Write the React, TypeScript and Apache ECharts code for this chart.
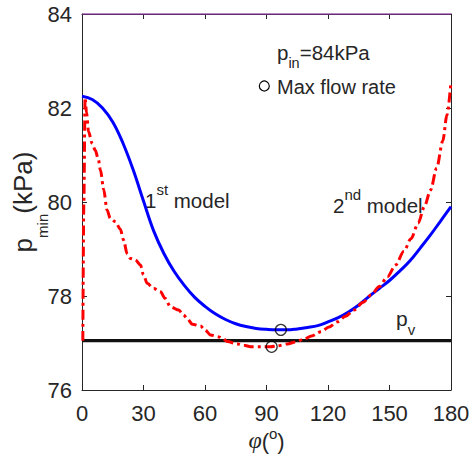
import React, { useEffect, useRef } from 'react';
import * as echarts from 'echarts';

// ---------- data ----------
const phiTicksInterval = 30; // degrees
const pRange = [76, 84];
const pv = 77.05; // vapour pressure (kPa)

// 1st model (solid blue): [phi (deg), p_min (kPa)]
const firstModel: [number, number][] = [
  [0, 82.25], [5, 82.18], [10, 82.0], [15, 81.7], [20, 81.25], [25, 80.68],
  [30, 80.02], [35, 79.38], [40, 78.9], [45, 78.52], [50, 78.22], [55, 77.97],
  [60, 77.78], [65, 77.62], [70, 77.5], [75, 77.41], [80, 77.35], [85, 77.31],
  [90, 77.29], [95, 77.28], [100, 77.28], [105, 77.3], [110, 77.33], [115, 77.37],
  [120, 77.45], [125, 77.54], [130, 77.66], [135, 77.81], [140, 77.99], [145, 78.16],
  [150, 78.33], [155, 78.53], [160, 78.75], [165, 79.02], [170, 79.3], [175, 79.6],
  [180, 79.9],
];

// 2nd model (red dash-dot)
const secondModel: [number, number][] = [
  [0.4, 77.05], [0.9, 80.0], [1.5, 82.22], [2.2, 81.9], [3.2, 81.5], [4.9, 81.25],
  [6.5, 81.1], [8, 80.9], [9, 80.68], [10.6, 80.26], [12.2, 79.83], [13.8, 79.65],
  [16.3, 79.58], [18.7, 79.42], [20.3, 79.19], [22, 78.9], [23.6, 78.8], [26, 78.77],
  [28.5, 78.66], [30, 78.45], [31.8, 78.27], [35, 78.16], [38.3, 78.09], [40.5, 77.95],
  [43.2, 77.77], [47.2, 77.7], [49.5, 77.6], [51.3, 77.52], [53.8, 77.4], [57.8, 77.36],
  [60, 77.28], [62.7, 77.17], [66.8, 77.13], [68.5, 77.1], [70.9, 77.03], [75.8, 76.98],
  [79, 76.95], [82.3, 76.92], [87.1, 76.92], [92, 76.92], [95.3, 76.94], [100.2, 76.98],
  [104, 77.02], [108.3, 77.08], [112, 77.15], [116.5, 77.24], [120.5, 77.34], [124.6, 77.45],
  [128.5, 77.57], [132.7, 77.7], [137, 77.86], [141, 78.02], [145, 78.2], [149, 78.41],
  [153, 78.66], [157, 78.95], [160.5, 79.22], [164, 79.55], [167, 79.9], [170, 80.25],
  [173, 80.72], [176, 81.3], [178, 81.85], [180, 82.56],
];

// max flow rate points
const maxFlow: [number, number][] = [[97, 77.28], [92.5, 76.92]];

const pvLine: [number, number][] = [[0, pv], [180, pv]];
const topLine: [number, number][] = [[0, 84], [180, 84]];

const FONT = '"Liberation Sans", Arial, Helvetica, sans-serif';
const TXT = '#262626';

export default function App() {
  const ref = useRef<HTMLDivElement>(null);
  useEffect(() => {
    if (!ref.current) return;
    const chart = echarts.init(ref.current, undefined, { renderer: 'svg' });

    const axisCommon = {
      axisLine: { show: true, onZero: false, lineStyle: { color: TXT, width: 1 } },
      axisTick: { show: true, inside: true, length: 5, lineStyle: { color: TXT, width: 1 } },
      splitLine: { show: false },
    };

    // subscript: main token top-aligned with bottom padding, small token bottom-aligned
    const subMain = (fs: number, pb: number) => ({
      fontSize: fs, padding: [0, 0, pb, 0], verticalAlign: 'top',
      fill: TXT, color: TXT, fontFamily: FONT,
    });
    const subSmall = (fs: number) => ({
      fontSize: fs, verticalAlign: 'bottom', fill: TXT, color: TXT, fontFamily: FONT,
    });
    // superscript: main token bottom-aligned with top padding, small token top-aligned
    const supMain = (fs: number, pt: number) => ({
      fontSize: fs, padding: [pt, 0, 0, 0], verticalAlign: 'bottom',
      fill: TXT, color: TXT, fontFamily: FONT,
    });
    const supSmall = (fs: number) => ({
      fontSize: fs, verticalAlign: 'top', fill: TXT, color: TXT, fontFamily: FONT,
    });

    const option: any = {
      animation: false,
      backgroundColor: '#ffffff',
      grid: { left: 82, right: 23, top: 14, bottom: 66, outerBoundsMode: 'none', containLabel: false },
      xAxis: [
        {
          type: 'value', position: 'bottom', min: 0, max: 180, interval: phiTicksInterval,
          ...axisCommon,
          axisLabel: { fontSize: 22, lineHeight: 16, color: TXT, fontFamily: FONT, margin: 15 },
          name: '{phi|φ}{n|(}{sup|o}{n|)}',
          nameLocation: 'middle', nameGap: 36, nameMoveOverlap: false,
          nameTextStyle: {
            rich: {
              phi: { ...supMain(24, 2), fontFamily: '"Liberation Serif", "DejaVu Serif", serif', fontStyle: 'italic' },
              n: supMain(22, 2),
              sup: supSmall(15),
            },
          },
        },
        {
          type: 'value', position: 'top', min: 0, max: 180, interval: phiTicksInterval,
          ...axisCommon,
          axisLabel: { show: false },
        },
      ],
      yAxis: [
        {
          type: 'value', position: 'left', min: pRange[0], max: pRange[1], interval: 2,
          ...axisCommon,
          axisLabel: { fontSize: 22, color: TXT, fontFamily: FONT, margin: 10 },
          name: '{n|p}{sub|min}{n|(kPa)}',
          nameLocation: 'middle', nameGap: 32, nameMoveOverlap: false,
          nameTextStyle: {
            rich: {
              n: subMain(26, 14),
              sub: subSmall(15),
            },
          },
        },
        {
          type: 'value', position: 'right', min: pRange[0], max: pRange[1], interval: 2,
          ...axisCommon,
          axisLabel: { show: false },
        },
      ],
      series: [
        {
          type: 'line', data: topLine, showSymbol: false, silent: true,
          lineStyle: { color: '#7E2F8E', width: 1.3 }, z: 1,
        },
        {
          type: 'line', name: 'pv', data: pvLine, showSymbol: false,
          lineStyle: { color: '#111111', width: 3.2 }, z: 2,
        },
        {
          type: 'line', name: '1st model', data: firstModel, showSymbol: false,
          smooth: 0.4, lineStyle: { color: '#0000ff', width: 3 }, z: 3,
        },
        {
          type: 'line', name: '2nd model', data: secondModel, showSymbol: false,
          smooth: 0.3, smoothMonotone: 'x',
          lineStyle: { color: '#ff0000', width: 3, type: [10, 4, 3, 4] }, z: 4,
        },
        {
          type: 'scatter', name: 'Max flow rate', data: maxFlow, symbol: 'circle', symbolSize: 11,
          itemStyle: { color: 'rgba(255,255,255,0)', borderColor: '#000', borderWidth: 1.3 }, z: 5,
        },
      ],
      graphic: [
        {
          type: 'text', x: 277, y: 42,
          style: {
            text: '{n|p}{sub|in}{n|=84kPa}', verticalAlign: 'top', align: 'left',
            rich: { n: subMain(20.5, 7), sub: subSmall(14.5) },
          },
        },
        {
          type: 'circle', shape: { cx: 264.3, cy: 86, r: 5 },
          style: { fill: 'none', stroke: '#000', lineWidth: 1.2 },
        },
        {
          type: 'text', x: 277, y: 86.5,
          style: {
            text: 'Max flow rate', fill: TXT, fontSize: 20, fontFamily: FONT,
            verticalAlign: 'middle', align: 'left',
          },
        },
        {
          type: 'text', x: 145, y: 182,
          style: {
            text: '{n|1}{s|st}{n| model}', verticalAlign: 'top', align: 'left',
            rich: { n: supMain(20.5, 8), s: supSmall(15) },
          },
        },
        {
          type: 'text', x: 333, y: 187,
          style: {
            text: '{n|2}{s|nd}{n| model}', verticalAlign: 'top', align: 'left',
            rich: { n: supMain(20.5, 8), s: supSmall(15) },
          },
        },
        {
          type: 'text', x: 396, y: 308,
          style: {
            text: '{n|p}{sub|v}', verticalAlign: 'top', align: 'left',
            rich: { n: subMain(21, 8), sub: subSmall(15) },
          },
        },
      ],
    };

    chart.setOption(option);
    return () => chart.dispose();
  }, []);

  return (
    <div
      ref={ref}
      style={{ position: 'fixed', left: 0, top: 0, width: 474, height: 456, background: '#fff' }}
    />
  );
}
